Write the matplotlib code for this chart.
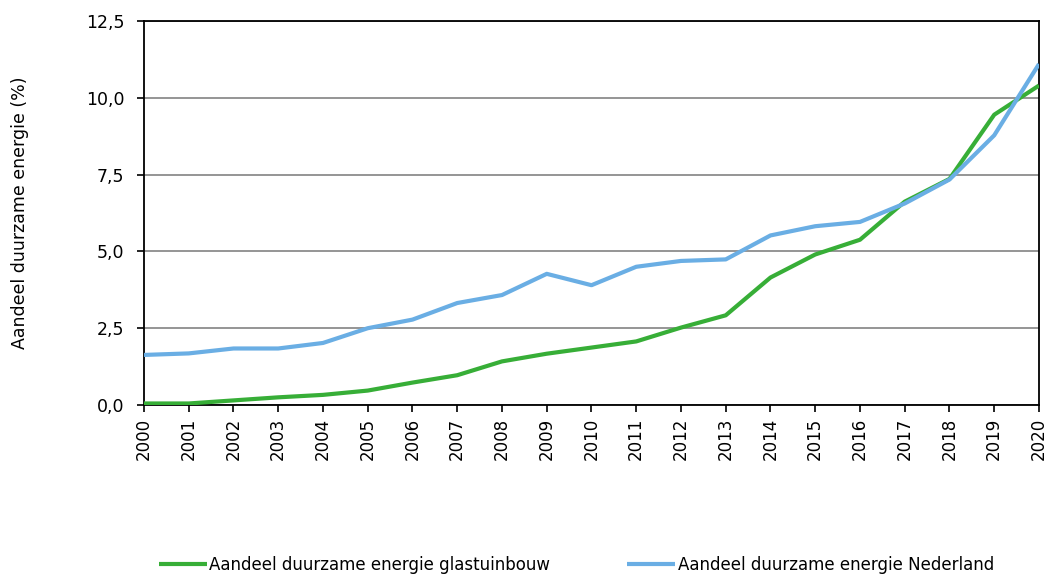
import matplotlib
matplotlib.use('Agg')
import matplotlib.pyplot as plt

years = list(range(2000, 2021))
glastuinbouw = [0.05, 0.05, 0.15, 0.25, 0.33, 0.47, 0.73, 0.97, 1.42, 1.67, 1.87,
                2.07, 2.52, 2.92, 4.15, 4.9, 5.38, 6.62, 7.36, 9.45, 10.4]
nederland = [1.63, 1.68, 1.84, 1.84, 2.02, 2.5, 2.78, 3.32, 3.58, 4.27, 3.9,
             4.5, 4.69, 4.74, 5.52, 5.82, 5.96, 6.56, 7.34, 8.78, 11.1]
yticks = [0, 2.5, 5, 7.5, 10, 12.5]
ylabels = ['0,0', '2,5', '5,0', '7,5', '10,0', '12,5']

plt.rcParams['font.family'] = 'DejaVu Sans'

fig = plt.figure(figsize=(10.48, 5.74), dpi=100)
ax = fig.add_axes([0.1374, 0.2944, 0.854, 0.669])

ax.plot(years, glastuinbouw, color='#37AE37', lw=3.0, solid_capstyle='butt',
        label='Aandeel duurzame energie glastuinbouw', zorder=3)
ax.plot(years, nederland, color='#6AAEE4', lw=3.0, solid_capstyle='butt',
        label='Aandeel duurzame energie Nederland', zorder=3)

ax.set_xlim(2000, 2020)
ax.set_ylim(0, 12.5)
ax.set_yticks(yticks)
ax.set_yticklabels(ylabels, fontsize=12.5)
ax.set_xticks(years)
ax.set_xticklabels([str(y) for y in years], rotation=90, fontsize=12)
ax.tick_params(direction='out', length=5, width=1.2, color='black')
ax.tick_params(axis='y', pad=9)
ax.tick_params(axis='x', pad=4)
ax.yaxis.grid(True, color='#8c8c8c', lw=1.3)
ax.set_axisbelow(True)
for s in ax.spines.values():
    s.set_color('black')
    s.set_linewidth(1.3)

ax.set_ylabel('Aandeel duurzame energie (%)', fontsize=12.5)
ax.yaxis.set_label_coords(-0.129, 0.5)

fig.legend(loc='lower left', bbox_to_anchor=(0.137, -0.026), ncol=2,
           frameon=False, fontsize=12, handlelength=2.9, handletextpad=0.15,
           columnspacing=4.6)

fig.savefig('out.png', dpi=100)
